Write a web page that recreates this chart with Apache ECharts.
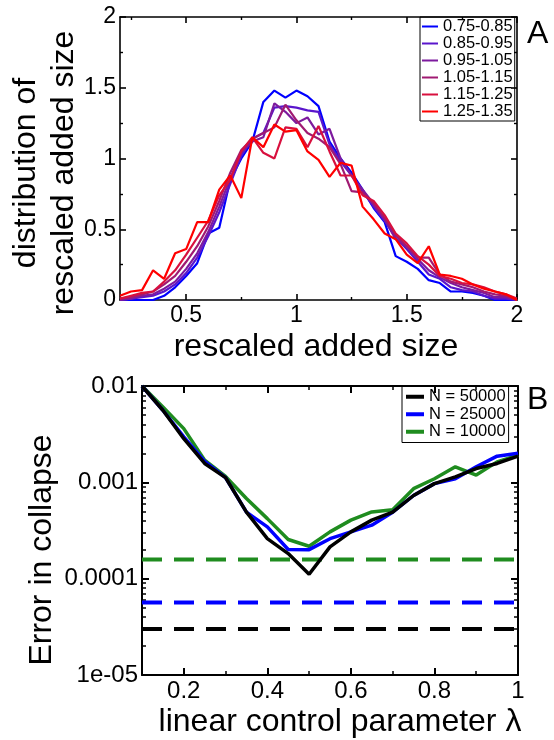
<!DOCTYPE html>
<html><head><meta charset="utf-8">
<script src="https://cdn.jsdelivr.net/npm/echarts@6/dist/echarts.min.js"></script>
<style>html,body{margin:0;padding:0;background:#fff}#c{width:554px;height:740px}</style>
</head><body><div id="c"></div>
<script>
// ---------- Panel A data ----------
const A_X = [0.2,0.25,0.3,0.35,0.4,0.45,0.5,0.55,0.6,0.65,0.7,0.75,0.8,0.85,0.9,0.95,1.0,1.05,1.1,1.15,1.2,1.25,1.3,1.35,1.4,1.45,1.5,1.55,1.6,1.65,1.7,1.75,1.8,1.85,1.9,1.95,2.0];
const A_NAMES = ['0.75-0.85','0.85-0.95','0.95-1.05','1.05-1.15','1.15-1.25','1.25-1.35'];
const A_COLORS = ['#0000ff','#5a16cc','#7d1a9e','#a01a72','#d8103e','#ff0000'];
const A_075 = [0.00,0.00,0.00,0.00,0.03,0.09,0.17,0.26,0.47,0.51,0.85,1.00,1.12,1.40,1.48,1.43,1.48,1.44,1.37,1.12,1.00,0.90,0.78,0.65,0.55,0.31,0.27,0.22,0.14,0.12,0.06,0.06,0.05,0.03,0.00,0.00,0.00];
const A_085 = [0.00,0.01,0.02,0.03,0.06,0.11,0.19,0.30,0.45,0.62,0.82,1.02,1.14,1.18,1.36,1.37,1.36,1.34,1.33,1.10,0.98,0.88,0.77,0.66,0.56,0.44,0.36,0.27,0.18,0.15,0.09,0.07,0.06,0.03,0.01,0.01,0.00];
const A_095 = [0.00,0.01,0.03,0.04,0.08,0.13,0.22,0.33,0.48,0.66,0.86,1.04,1.12,1.15,1.39,1.33,1.25,1.29,1.17,1.21,1.00,0.88,0.78,0.68,0.57,0.43,0.38,0.29,0.21,0.16,0.12,0.09,0.07,0.05,0.02,0.02,0.00];
const A_105 = [0.01,0.02,0.04,0.06,0.11,0.17,0.27,0.38,0.52,0.70,0.90,1.06,1.14,1.18,1.22,1.38,1.27,1.18,1.14,1.08,0.96,0.77,0.76,0.68,0.58,0.46,0.38,0.30,0.30,0.18,0.13,0.11,0.09,0.06,0.04,0.03,0.00];
const A_115 = [0.01,0.03,0.05,0.06,0.13,0.21,0.32,0.44,0.56,0.74,0.85,1.05,1.15,1.04,1.00,1.22,1.21,1.08,1.23,1.05,0.88,0.88,0.74,0.70,0.60,0.47,0.40,0.31,0.25,0.17,0.15,0.12,0.11,0.09,0.06,0.04,0.01];
const A_125 = [0.03,0.06,0.07,0.21,0.15,0.33,0.36,0.55,0.55,0.78,0.88,0.72,1.15,1.08,1.24,1.19,1.20,1.05,0.99,0.87,0.97,0.95,0.66,0.57,0.47,0.43,0.32,0.26,0.38,0.18,0.17,0.15,0.11,0.08,0.06,0.04,0.00];
const A_SERIES = [A_075,A_085,A_095,A_105,A_115,A_125];
const A_X_MAJOR = [0.5,1,1.5,2];
const A_X_MINOR = [0.25,0.75,1.25,1.75];
const A_Y_MAJOR = [0,0.5,1,1.5,2];
const A_Y_MINOR = [0.25,0.75,1.25,1.75];

// ---------- Panel B data ----------
const B_X = [0.1,0.15,0.2,0.25,0.3,0.35,0.4,0.45,0.5,0.55,0.6,0.65,0.7,0.75,0.8,0.85,0.9,0.95,1.0];
const B_NAMES = ['N = 50000','N = 25000','N = 10000'];
const B_COLORS = ['#000000','#0000ff','#1f8c1f'];
const B_N50000 = [0.0100,0.0056,0.00284,0.00157,0.00112,0.00049,0.00026,0.000182,0.000111,0.000214,0.000306,0.000405,0.00049,0.00073,0.00097,0.00114,0.00139,0.00157,0.00187];
const B_N25000 = [0.0100,0.0056,0.00296,0.00165,0.00112,0.00049,0.000345,0.000201,0.000200,0.00026,0.000306,0.000359,0.00049,0.00073,0.00097,0.00109,0.00145,0.00187,0.00200];
const B_N10000 = [0.0100,0.00605,0.00361,0.0017,0.00115,0.00068,0.00042,0.000255,0.000217,0.000306,0.000405,0.000493,0.00052,0.00086,0.00109,0.00145,0.00119,0.00163,0.00191];
const B_SERIES = [B_N50000,B_N25000,B_N10000];
const B_DASH = [3.0e-5,5.66e-5,1.58e-4];
const B_X_MAJOR = [0.2,0.4,0.6,0.8,1];
const B_X_MINOR = [0.3,0.5,0.7,0.9];
const B_Y_MAJOR = [1e-5,1e-4,1e-3,1e-2];
const B_Y_LABELS = ['1e-05','0.0001','0.001','0.01'];
const B_Y_MULT = [2,3,4,5,6,7,8,9];
const B_Y_MINOR = [];
B_Y_MAJOR.slice(0,3).forEach(d => B_Y_MULT.forEach(m => B_Y_MINOR.push(d*m)));

const FONT = "'Liberation Sans', Arial, Helvetica, sans-serif";

function ax(o) {
  return {
    type: o.type || 'value', gridIndex: o.grid, position: o.pos,
    min: o.min, max: o.max, logBase: 10,
    axisLine: {show: !!o.line, onZero: false, lineStyle: {color: '#000', width: o.lw}},
    axisTick: {show: true, inside: true, length: o.len, customValues: o.ticks,
               lineStyle: {color: '#000', width: o.lw}},
    axisLabel: o.labels ? {show: true, customValues: o.ticks, color: '#000',
               fontSize: o.fs, fontFamily: FONT, margin: o.margin,
               formatter: o.fmt} : {show: false},
    splitLine: {show: false}, minorTick: {show: false}, minorSplitLine: {show: false}
  };
}

const xAxis = [
  ax({grid:0,pos:'bottom',min:0.2,max:2,ticks:A_X_MAJOR,len:6,line:true,lw:1.6,labels:true,fs:23,margin:4}),
  ax({grid:0,pos:'bottom',min:0.2,max:2,ticks:A_X_MINOR,len:3,lw:1.4}),
  ax({grid:0,pos:'top',min:0.2,max:2,ticks:A_X_MAJOR,len:6,line:true,lw:1.6}),
  ax({grid:0,pos:'top',min:0.2,max:2,ticks:A_X_MINOR,len:3,lw:1.4}),
  ax({grid:1,pos:'bottom',min:0.1,max:1,ticks:B_X_MAJOR,len:7,line:true,lw:2,labels:true,fs:24,margin:4}),
  ax({grid:1,pos:'bottom',min:0.1,max:1,ticks:B_X_MINOR,len:4,lw:1.5}),
  ax({grid:1,pos:'top',min:0.1,max:1,ticks:B_X_MAJOR,len:7,line:true,lw:2}),
  ax({grid:1,pos:'top',min:0.1,max:1,ticks:B_X_MINOR,len:4,lw:1.5})
];
const bFmt = v => B_Y_LABELS[Math.round(Math.log10(v)) + 5];
const yAxis = [
  ax({grid:0,pos:'left',min:0,max:2,ticks:A_Y_MAJOR,len:6,line:true,lw:1.6,labels:true,fs:23,margin:4}),
  ax({grid:0,pos:'left',min:0,max:2,ticks:A_Y_MINOR,len:3,lw:1.4}),
  ax({grid:0,pos:'right',min:0,max:2,ticks:A_Y_MAJOR,len:6,line:true,lw:1.6}),
  ax({grid:0,pos:'right',min:0,max:2,ticks:A_Y_MINOR,len:3,lw:1.4}),
  ax({type:'log',grid:1,pos:'left',min:1e-5,max:1e-2,ticks:B_Y_MAJOR,len:7,line:true,lw:2,labels:true,fs:24,margin:4,fmt:bFmt}),
  ax({type:'log',grid:1,pos:'left',min:1e-5,max:1e-2,ticks:B_Y_MINOR,len:4,lw:1.5}),
  ax({type:'log',grid:1,pos:'right',min:1e-5,max:1e-2,ticks:B_Y_MAJOR,len:7,line:true,lw:2}),
  ax({type:'log',grid:1,pos:'right',min:1e-5,max:1e-2,ticks:B_Y_MINOR,len:4,lw:1.5})
];

const series = [];
A_SERIES.forEach((arr, i) => {
  series.push({
    type: 'line', name: A_NAMES[i], xAxisIndex: 0, yAxisIndex: 0,
    data: A_X.map((x, j) => [x, arr[j]]),
    showSymbol: false, symbol: 'none', color: A_COLORS[i],
    lineStyle: {color: A_COLORS[i], width: 2.2}, z: 2 + i
  });
});
// dashed reference levels
B_DASH.forEach((v, i) => {
  series.push({
    type: 'line', name: 'ref ' + B_NAMES[i], xAxisIndex: 4, yAxisIndex: 4,
    data: [[B_X[0], v], [B_X[B_X.length - 1], v]],
    showSymbol: false, symbol: 'none', color: B_COLORS[i],
    lineStyle: {color: B_COLORS[i], width: 4, type: [20, 12]}, z: 2
  });
});
[2, 1, 0].forEach(i => {
  series.push({
    type: 'line', name: B_NAMES[i], xAxisIndex: 4, yAxisIndex: 4,
    data: B_X.map((x, j) => [x, B_SERIES[i][j]]),
    showSymbol: false, symbol: 'none', color: B_COLORS[i],
    lineStyle: {color: B_COLORS[i], width: 3.5}, z: 3 + (2 - i)
  });
});

const option = {
  animation: false,
  backgroundColor: '#fff',
  textStyle: {fontFamily: FONT},
  grid: [
    {left: 120, top: 17, width: 397, height: 283},
    {left: 142, top: 386, width: 376, height: 289}
  ],
  xAxis: xAxis,
  yAxis: yAxis,
  legend: [
    {
      data: A_NAMES, orient: 'vertical', left: 420, top: 17,
      icon: 'rect', itemWidth: 16, itemHeight: 2, itemGap: 0,
      borderColor: '#000', borderWidth: 1, padding: [1, 2, 1, 2],
      textStyle: {fontSize: 16.5, lineHeight: 15.6, color: '#000', fontFamily: FONT},
      selectedMode: false
    },
    {
      data: B_NAMES, orient: 'vertical', left: 402, top: 386,
      icon: 'rect', itemWidth: 18, itemHeight: 4, itemGap: 0,
      borderColor: '#000', borderWidth: 1, padding: [2, 3, 2, 4],
      textStyle: {fontSize: 16.5, lineHeight: 17.5, color: '#000', fontFamily: FONT},
      selectedMode: false
    }
  ],
  graphic: [
    {type: 'text', x: 527, y: 34, style: {text: 'A', fontSize: 32, fontFamily: FONT, fill: '#000', align: 'left', verticalAlign: 'middle'}},
    {type: 'text', x: 527, y: 400, style: {text: 'B', fontSize: 32, fontFamily: FONT, fill: '#000', align: 'left', verticalAlign: 'middle'}},
    {type: 'text', x: 316, y: 347, style: {text: 'rescaled added size', fontSize: 32, fontFamily: FONT, fill: '#000', align: 'center', verticalAlign: 'middle'}},
    {type: 'text', x: 45, y: 173, rotation: Math.PI / 2, style: {text: 'distribution of\nrescaled added size', fontSize: 32, lineHeight: 38, fontFamily: FONT, fill: '#000', align: 'center', verticalAlign: 'middle'}},
    {type: 'text', x: 340, y: 722, style: {text: 'linear control parameter λ', fontSize: 32, fontFamily: FONT, fill: '#000', align: 'center', verticalAlign: 'middle'}},
    {type: 'text', x: 42, y: 550, rotation: Math.PI / 2, style: {text: 'Error in collapse', fontSize: 32, fontFamily: FONT, fill: '#000', align: 'center', verticalAlign: 'middle'}}
  ],
  series: series
};
const chart = echarts.init(document.getElementById('c'), null, {renderer: 'canvas'});
chart.setOption(option);
</script>
</body></html>
